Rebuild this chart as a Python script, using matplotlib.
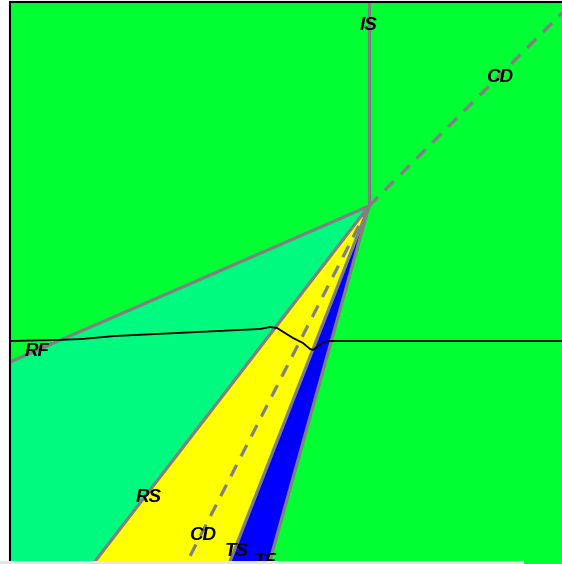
import matplotlib
matplotlib.use("Agg")
import matplotlib.pyplot as plt
from matplotlib.patches import Polygon, Rectangle

# common point where the boundaries meet
centre = (3.59, 3.58)

# far ends of each boundary line
is_end = (3.59, 5.62)
cd_up_end = (5.52, 5.51)
cd_low_end = (1.76, 0.0)
rf_end = (0.0, 2.02)
rs_end = (0.83, 0.0)
ts_end = (2.19, 0.0)
tf_end = (2.59, 0.0)

# measured path (black trace)
path_x = [0.0, 0.47, 0.72, 1.05, 2.50, 2.60, 2.67, 2.83, 2.93, 3.00, 3.03, 3.12, 3.17, 5.52]
path_y = [2.23, 2.24, 2.25, 2.28, 2.35, 2.37, 2.36, 2.26, 2.21, 2.15, 2.14, 2.21, 2.23, 2.23]

labels = ["IS", "CD", "RF", "RS", "CD", "TS", "TF"]
label_x = [3.59, 4.90, 0.27, 1.39, 1.93, 2.27, 2.55]
label_y = [5.39, 4.87, 2.12, 0.66, 0.28, 0.12, 0.03]

green = "#00ff33"
spring = "#00fa80"
gray = "#808080"

fig = plt.figure(figsize=(5.62, 5.64), dpi=100)
ax = fig.add_axes([10 / 562, 0, 552 / 562, 562 / 564])
ax.set_facecolor(green)
ax.set_xlim(0, 5.52)
ax.set_ylim(0, 5.62)
ax.set_xticks([])
ax.set_yticks([])
for s in ["right", "bottom"]:
    ax.spines[s].set_visible(False)
for s in ["left", "top"]:
    ax.spines[s].set_linewidth(1.5)
    ax.spines[s].set_color("black")

# coloured wedges
ax.add_patch(Polygon([centre, rf_end, (0, 0), rs_end], closed=True,
                     facecolor=spring, edgecolor="none"))
ax.add_patch(Polygon([centre, rs_end, ts_end], closed=True,
                     facecolor="yellow", edgecolor="none"))
ax.add_patch(Polygon([centre, ts_end, tf_end], closed=True,
                     facecolor="blue", edgecolor="none"))

lw = 2.3
for end in [is_end, rf_end, rs_end, ts_end, tf_end]:
    ax.plot([centre[0], end[0]], [centre[1], end[1]], color=gray, lw=lw,
            solid_capstyle="butt")
for end in [cd_up_end, cd_low_end]:
    ax.plot([centre[0], end[0]], [centre[1], end[1]], color=gray, lw=lw,
            ls=(0, (4, 3)))

ax.plot(path_x, path_y, color="black", lw=1.3)

for t, x, y in zip(labels, label_x, label_y):
    ax.text(x, y, t, ha="center", va="center", fontsize=13.5,
            fontweight="bold", fontstyle="italic", family="Liberation Sans")

# strip along the bottom edge
fig.patches.append(Rectangle((0, 0), 524 / 562, 3 / 564, transform=fig.transFigure,
                             facecolor="#e4e4e4", edgecolor="none", zorder=10))

fig.savefig("out.png", dpi=100)
